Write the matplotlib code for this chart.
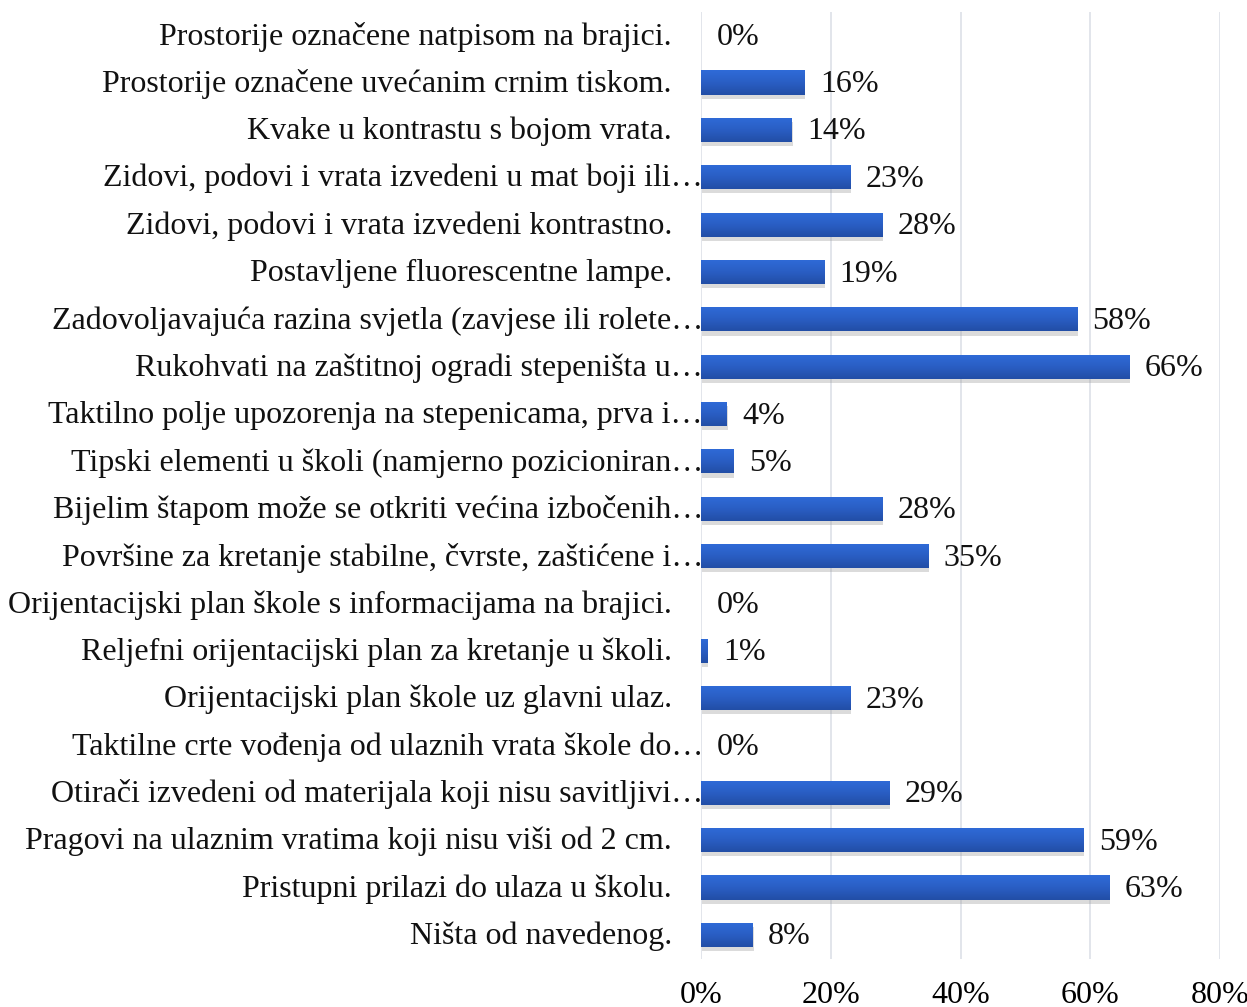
import matplotlib
matplotlib.use('Agg')
import matplotlib.pyplot as plt
import matplotlib.transforms as mtransforms
import matplotlib.patheffects as pe
from matplotlib.colors import LinearSegmentedColormap
import numpy as np

kategorije = [
    "Prostorije označene natpisom na brajici.",
    "Prostorije označene uvećanim crnim tiskom.",
    "Kvake u kontrastu s bojom vrata.",
    "Zidovi, podovi i vrata izvedeni u mat boji ili…",
    "Zidovi, podovi i vrata izvedeni kontrastno.",
    "Postavljene fluorescentne lampe.",
    "Zadovoljavajuća razina svjetla (zavjese ili rolete…",
    "Rukohvati na zaštitnoj ogradi stepeništa u…",
    "Taktilno polje upozorenja na stepenicama, prva i…",
    "Tipski elementi u školi (namjerno pozicioniran…",
    "Bijelim štapom može se otkriti većina izbočenih…",
    "Površine za kretanje stabilne, čvrste, zaštićene i…",
    "Orijentacijski plan škole s informacijama na brajici.",
    "Reljefni orijentacijski plan za kretanje u školi.",
    "Orijentacijski plan škole uz glavni ulaz.",
    "Taktilne crte vođenja od ulaznih vrata škole do…",
    "Otirači izvedeni od materijala koji nisu savitljivi…",
    "Pragovi na ulaznim vratima koji nisu viši od 2 cm.",
    "Pristupni prilazi do ulaza u školu.",
    "Ništa od navedenog.",
]
postotci = [0, 16, 14, 23, 28, 19, 58, 66, 4, 5, 28, 35, 0, 1, 23, 0, 29, 59, 63, 8]
x_oznake = ["0%", "20%", "40%", "60%", "80%"]
x_tocke = [0, 20, 40, 60, 80]

plt.rcParams['font.family'] = ['Liberation Serif', 'DejaVu Serif']
velicina = 23

fig = plt.figure(figsize=(12.47, 10.07), dpi=100)
ax = fig.add_axes([701 / 1247, 1 - 958.5 / 1007, (1220 - 701) / 1247, (958.5 - 11.5) / 1007])

y = list(range(len(kategorije)))

stupci = ax.barh(y, postotci, height=0.51, color='#2552AE', zorder=3,
                 path_effects=[pe.SimplePatchShadow(offset=(0.5, -3), shadow_rgbFace='#9a9a9a', alpha=0.35),
                               pe.Normal()])

# prijelaz boje od vrha prema dnu stupca
gradijent = np.linspace(0, 1, 64).reshape(-1, 1)
plava = LinearSegmentedColormap.from_list('plava', ['#2F6BD8', '#2A5EC4', '#224EA6'])
for st in stupci:
    if st.get_width() <= 0:
        continue
    x0, yb = st.get_x(), st.get_y()
    slika = ax.imshow(gradijent, cmap=plava, aspect='auto', zorder=4,
                      extent=(x0, x0 + st.get_width(), yb + st.get_height(), yb),
                      interpolation='bilinear')
    slika.set_clip_path(st)
ax.set_xlim(0, 80)
ax.set_ylim(len(kategorije) - 0.5, -0.5)

ax.set_xticks(x_tocke)
ax.set_xticklabels(x_oznake, fontsize=velicina)
ax.tick_params(axis='x', length=0, pad=16)
ax.set_yticks([])
for s in ax.spines.values():
    s.set_visible(False)
for xv in x_tocke:
    ax.axvline(xv, color='#DDE0E8', linewidth=1.2, zorder=1)

# oznake kategorija lijevo od osi
for i, (naziv, v) in enumerate(zip(kategorije, postotci)):
    skraceno = naziv.endswith("…")
    pomak = 0.02 if skraceno else -0.29
    tr = mtransforms.blended_transform_factory(ax.transAxes, ax.transData)
    tr = tr + mtransforms.ScaledTranslation(pomak, -0.015, fig.dpi_scale_trans)
    ax.text(0, i, naziv, transform=tr, ha='right', va='center', fontsize=velicina,
            color='#111111', zorder=5)
    ax.annotate(f"{v}%", (v, i), xytext=(11, -1.5), textcoords='offset points',
                ha='left', va='center', fontsize=velicina, color='#111111', zorder=5)

fig.savefig('out.png', dpi=100)
